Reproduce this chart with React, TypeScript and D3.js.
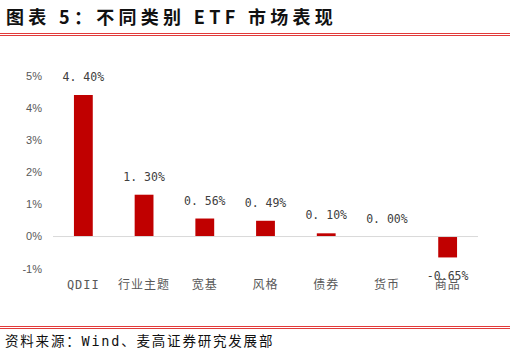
import React from 'react';
import * as d3 from 'd3';

const categories = ['QDII', '行业主题', '宽基', '风格', '债券', '货币', '商品'];
const values = [4.4, 1.3, 0.56, 0.49, 0.1, 0.0, -0.65];
const yTicks = [-1, 0, 1, 2, 3, 4, 5];

const W = 510;
const H = 353;

export default function App() {
  const x = d3.scaleBand<string>().domain(categories).range([53, 478]).paddingInner(0.69).paddingOuter(0.345);
  const y = d3.scaleLinear().domain([-1, 5]).range([268.7, 75.7]);

  const fmt = (v: number) => (v < 0 ? v.toFixed(2) : v.toFixed(2).replace('.', '. ')) + '%';

  return (
    <svg width={W} height={H} style={{ position: 'absolute', left: 0, top: 0, background: '#fff' }}>
      <text x={6} y={24} fontFamily="Noto Sans CJK SC" fontWeight="bold" fontSize={18} letterSpacing={4.3} fill="#111">
        图表 5：不同类别 ETF 市场表现
      </text>
      <line x1={0} x2={W} y1={33.5} y2={33.5} stroke="#e23a3a" strokeWidth={1} />
      <line x1={0} x2={W} y1={35.5} y2={35.5} stroke="#e23a3a" strokeWidth={1} />

      {yTicks.map(t => (
        <text key={t} x={42} y={y(t)} dy="0.35em" textAnchor="end" fontFamily="Liberation Sans" fontSize={11} fill="#595959">
          {t}%
        </text>
      ))}

      {categories.map((c, i) => {
        const v = values[i];
        const top = Math.min(y(v), y(0));
        const h = Math.abs(y(v) - y(0));
        return (
          <g key={c}>
            <rect x={x(c)} y={top} width={x.bandwidth()} height={h} fill="#c00000" />
            <text
              x={(x(c) as number) + x.bandwidth() / 2}
              y={v >= 0 ? y(v) - 18 : y(v) + 19}
              dy="0.35em"
              textAnchor="middle"
              fontFamily="DejaVu Sans Mono"
              fontSize={11.5}
              fill="#404040"
            >
              {fmt(v)}
            </text>
          </g>
        );
      })}

      <line x1={53} x2={478} y1={y(0)} y2={y(0)} stroke="#d9d9d9" strokeWidth={1} />

      {categories.map(c => (
        <text
          key={c}
          x={(x(c) as number) + x.bandwidth() / 2}
          y={285}
          dy="0.35em"
          textAnchor="middle"
          fontFamily="DejaVu Sans Mono, Noto Sans CJK SC"
          fontSize={12}
          letterSpacing={1}
          fill="#595959"
        >
          {c}
        </text>
      ))}

      <line x1={0} x2={W} y1={326.5} y2={326.5} stroke="#e23a3a" strokeWidth={1} />
      <line x1={0} x2={W} y1={328.5} y2={328.5} stroke="#e23a3a" strokeWidth={1} />
      <text x={5} y={341} dy="0.35em" fontFamily="DejaVu Sans Mono, Noto Sans CJK SC" fontSize={13.5} letterSpacing={1.8} fill="#111">
        资料来源：Wind、麦高证券研究发展部
      </text>
    </svg>
  );
}
